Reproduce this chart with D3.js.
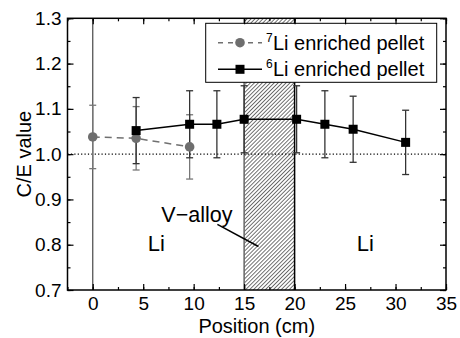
<!DOCTYPE html>
<html>
<head>
<meta charset="utf-8">
<script src="https://cdn.jsdelivr.net/npm/d3@7"></script>
<style>
  body { margin: 0; background: #fff; }
  text { font-family: "Liberation Sans", Arial, sans-serif; fill: #000; }
</style>
</head>
<body>
<div id="chart"></div>
<script>
// Data
const li7Pos = [0, 4.3, 9.6]
const li7Val = [1.038, 1.035, 1.016]
const li7Err = [0.07, 0.07, 0.071]

const li6Pos = [4.3, 9.6, 12.3, 15, 20.2, 23, 25.8, 31]
const li6Val = [1.052, 1.066, 1.066, 1.077, 1.077, 1.066, 1.055, 1.026]
const li6Err = [0.073, 0.074, 0.074, 0.074, 0.074, 0.074, 0.073, 0.071]

const xTicks = [0, 5, 10, 15, 20, 25, 30, 35]
const yTicks = [0.7, 0.8, 0.9, 1.0, 1.1, 1.2, 1.3]

const alloyRange = [15, 20]
const boundaryX = 0
const refLine = 1.0

const seriesNames = ['Li enriched pellet', 'Li enriched pellet']
const seriesSup = ['7', '6']

const regionLabels = ['Li', 'Li']
const regionX = [6.3, 27.0]
const regionY = [0.787, 0.787]

const alloyLabel = 'V\u2212alloy'
const alloyLabelPos = [6.8, 0.851]
const alloyLeader = [[12.35, 0.845], [16.42, 0.796]]

function draw() {
  const dimensions = {
    width: 460,
    height: 338,
    left: 67.5,
    right: 446,
    top: 18.3,
    bottom: 290,
  }

  const svg = d3.select('#chart')
    .append('svg')
    .attr('width', dimensions.width)
    .attr('height', dimensions.height)

  // Scales
  const xScale = d3.scaleLinear()
    .domain([-2.5, 35])
    .range([dimensions.left, dimensions.right])

  const yScale = d3.scaleLinear()
    .domain([0.7, 1.3])
    .range([dimensions.bottom, dimensions.top])

  // hatch pattern
  const defs = svg.append('defs')
  defs.append('pattern')
    .attr('id', 'hatch')
    .attr('patternUnits', 'userSpaceOnUse')
    .attr('width', 2.8)
    .attr('height', 2.8)
    .attr('patternTransform', 'rotate(45)')
    .append('line')
    .attr('x1', 0).attr('y1', 0)
    .attr('x2', 0).attr('y2', 2.8)
    .attr('stroke', '#000')
    .attr('stroke-width', 1.1)

  // V-alloy region
  svg.append('rect')
    .attr('x', xScale(alloyRange[0]))
    .attr('y', yScale(1.3))
    .attr('width', xScale(alloyRange[1]) - xScale(alloyRange[0]))
    .attr('height', yScale(0.7) - yScale(1.3))
    .attr('fill', 'url(#hatch)')
  svg.append('line')
    .attr('x1', xScale(alloyRange[0])).attr('x2', xScale(alloyRange[0]))
    .attr('y1', yScale(1.3)).attr('y2', yScale(0.7))
    .attr('stroke', '#666').attr('stroke-width', 1.5)
  svg.append('line')
    .attr('x1', xScale(alloyRange[1])).attr('x2', xScale(alloyRange[1]))
    .attr('y1', yScale(1.3)).attr('y2', yScale(0.7))
    .attr('stroke', '#000').attr('stroke-width', 1.5)

  // reference line and boundary
  svg.append('line')
    .attr('x1', xScale(-2.5)).attr('x2', xScale(35))
    .attr('y1', yScale(refLine)).attr('y2', yScale(refLine))
    .attr('stroke', '#000')
    .attr('stroke-width', 1.2)
    .attr('stroke-dasharray', '1.2,2.2')

  svg.append('line')
    .attr('x1', xScale(boundaryX)).attr('x2', xScale(boundaryX))
    .attr('y1', yScale(1.3)).attr('y2', yScale(0.7))
    .attr('stroke', '#555').attr('stroke-width', 1.3)

  // error bars
  const li7 = li7Pos.map((p, i) => ({ x: p, y: li7Val[i], e: li7Err[i] }))
  const li6 = li6Pos.map((p, i) => ({ x: p, y: li6Val[i], e: li6Err[i] }))

  function errorBars(data, color) {
    const g = svg.append('g')
      .attr('stroke', color)
      .attr('stroke-width', 1.3)
    g.selectAll('.stem')
      .data(data)
      .join('line')
      .attr('x1', d => xScale(d.x)).attr('x2', d => xScale(d.x))
      .attr('y1', d => yScale(d.y + d.e)).attr('y2', d => yScale(d.y - d.e))
    g.selectAll('.cap')
      .data(data.flatMap(d => [d.y + d.e, d.y - d.e].map(v => ({ x: d.x, v }))))
      .join('line')
      .attr('x1', d => xScale(d.x) - 3.5).attr('x2', d => xScale(d.x) + 3.5)
      .attr('y1', d => yScale(d.v)).attr('y2', d => yScale(d.v))
  }
  errorBars(li7, '#777')
  errorBars(li6, '#333')

  // lines
  const lineGen = d3.line()
    .x(d => xScale(d.x))
    .y(d => yScale(d.y))

  svg.append('path')
    .datum(li7)
    .attr('d', lineGen)
    .attr('fill', 'none')
    .attr('stroke', '#707070')
    .attr('stroke-width', 1.5)
    .attr('stroke-dasharray', '7,5')

  svg.append('path')
    .datum(li6)
    .attr('d', lineGen)
    .attr('fill', 'none')
    .attr('stroke', '#000')
    .attr('stroke-width', 1.5)

  // markers
  svg.append('g')
    .selectAll('circle')
    .data(li7)
    .join('circle')
    .attr('cx', d => xScale(d.x))
    .attr('cy', d => yScale(d.y))
    .attr('r', 4.8)
    .attr('fill', '#6e6e6e')

  svg.append('g')
    .selectAll('rect')
    .data(li6)
    .join('rect')
    .attr('x', d => xScale(d.x) - 4.5)
    .attr('y', d => yScale(d.y) - 4.5)
    .attr('width', 9)
    .attr('height', 9)
    .attr('fill', '#000')

  // annotations
  svg.append('g')
    .selectAll('text')
    .data(regionLabels)
    .join('text')
    .attr('x', (d, i) => xScale(regionX[i]))
    .attr('y', (d, i) => yScale(regionY[i]))
    .attr('text-anchor', 'middle')
    .style('font-size', '22px')
    .text(d => d)

  svg.append('text')
    .attr('x', xScale(alloyLabelPos[0]))
    .attr('y', yScale(alloyLabelPos[1]))
    .style('font-size', '21.5px')
    .text(alloyLabel)

  svg.append('line')
    .attr('x1', xScale(alloyLeader[0][0])).attr('y1', yScale(alloyLeader[0][1]))
    .attr('x2', xScale(alloyLeader[1][0])).attr('y2', yScale(alloyLeader[1][1]))
    .attr('stroke', '#000').attr('stroke-width', 1.5)

  // legend
  const legend = svg.append('g')
  legend.append('rect')
    .attr('x', 205.7).attr('y', 23.3)
    .attr('width', 231).attr('height', 59)
    .attr('fill', '#fff')
    .attr('stroke', '#000')
    .attr('stroke-width', 1)

  const rows = [42.7, 69.3]
  legend.append('line')
    .attr('x1', 218).attr('x2', 262)
    .attr('y1', rows[0]).attr('y2', rows[0])
    .attr('stroke', '#707070').attr('stroke-width', 1.5)
    .attr('stroke-dasharray', '5,5')
  legend.append('circle')
    .attr('cx', 240).attr('cy', rows[0]).attr('r', 4.8)
    .attr('fill', '#6e6e6e')
  legend.append('line')
    .attr('x1', 218).attr('x2', 262)
    .attr('y1', rows[1]).attr('y2', rows[1])
    .attr('stroke', '#000').attr('stroke-width', 1.5)
  legend.append('rect')
    .attr('x', 240 - 4.5).attr('y', rows[1] - 4.5)
    .attr('width', 9).attr('height', 9)
    .attr('fill', '#000')

  seriesNames.forEach((name, i) => {
    legend.append('text')
      .attr('x', 266).attr('y', rows[i] - 1)
      .style('font-size', '12px')
      .text(seriesSup[i])
    legend.append('text')
      .attr('x', 273).attr('y', rows[i] + 7)
      .style('font-size', '20px')
      .text(name)
  })

  // AXIS
  const minorX = d3.range(-2.5, 35.01, 2.5)
  const minorY = d3.range(0.7, 1.3001, 0.05)

  const axisStyle = g => {
    g.select('.domain').remove()
    g.selectAll('line').attr('stroke', '#000').attr('stroke-width', 1.2)
  }

  svg.append('g')
    .attr('transform', `translate(0, ${dimensions.bottom})`)
    .call(d3.axisBottom(xScale).tickValues(minorX).tickSize(-3).tickFormat(''))
    .call(axisStyle)
  svg.append('g')
    .attr('transform', `translate(0, ${dimensions.bottom})`)
    .call(d3.axisBottom(xScale).tickValues(xTicks).tickSize(-6).tickPadding(7))
    .call(axisStyle)
    .selectAll('text')
    .style('font-size', '19px')
    .attr('font-family', null)

  svg.append('g')
    .attr('transform', `translate(0, ${dimensions.top})`)
    .call(d3.axisTop(xScale).tickValues(minorX).tickSize(-3).tickFormat(''))
    .call(axisStyle)
  svg.append('g')
    .attr('transform', `translate(0, ${dimensions.top})`)
    .call(d3.axisTop(xScale).tickValues(xTicks).tickSize(-6).tickFormat(''))
    .call(axisStyle)

  svg.append('g')
    .attr('transform', `translate(${dimensions.left}, 0)`)
    .call(d3.axisLeft(yScale).tickValues(minorY).tickSize(-3).tickFormat(''))
    .call(axisStyle)
  svg.append('g')
    .attr('transform', `translate(${dimensions.left}, 0)`)
    .call(d3.axisLeft(yScale).tickValues(yTicks).tickSize(-6).tickPadding(6).tickFormat(d3.format('.1f')))
    .call(axisStyle)
    .selectAll('text')
    .style('font-size', '19px')
    .attr('font-family', null)

  svg.append('g')
    .attr('transform', `translate(${dimensions.right}, 0)`)
    .call(d3.axisRight(yScale).tickValues(minorY).tickSize(-3).tickFormat(''))
    .call(axisStyle)
  svg.append('g')
    .attr('transform', `translate(${dimensions.right}, 0)`)
    .call(d3.axisRight(yScale).tickValues(yTicks).tickSize(-6).tickFormat(''))
    .call(axisStyle)

  // frame
  svg.append('rect')
    .attr('x', dimensions.left).attr('y', dimensions.top)
    .attr('width', dimensions.right - dimensions.left)
    .attr('height', dimensions.bottom - dimensions.top)
    .attr('fill', 'none')
    .attr('stroke', '#000')
    .attr('stroke-width', 1.5)

  // titles
  svg.append('text')
    .attr('x', (dimensions.left + dimensions.right) / 2)
    .attr('y', 332.5)
    .attr('text-anchor', 'middle')
    .style('font-size', '20px')
    .text('Position (cm)')

  svg.append('text')
    .attr('transform', `translate(31, ${(dimensions.top + dimensions.bottom) / 2}) rotate(-90)`)
    .attr('text-anchor', 'middle')
    .style('font-size', '20px')
    .text('C/E value')
}

draw()
</script>
</body>
</html>
